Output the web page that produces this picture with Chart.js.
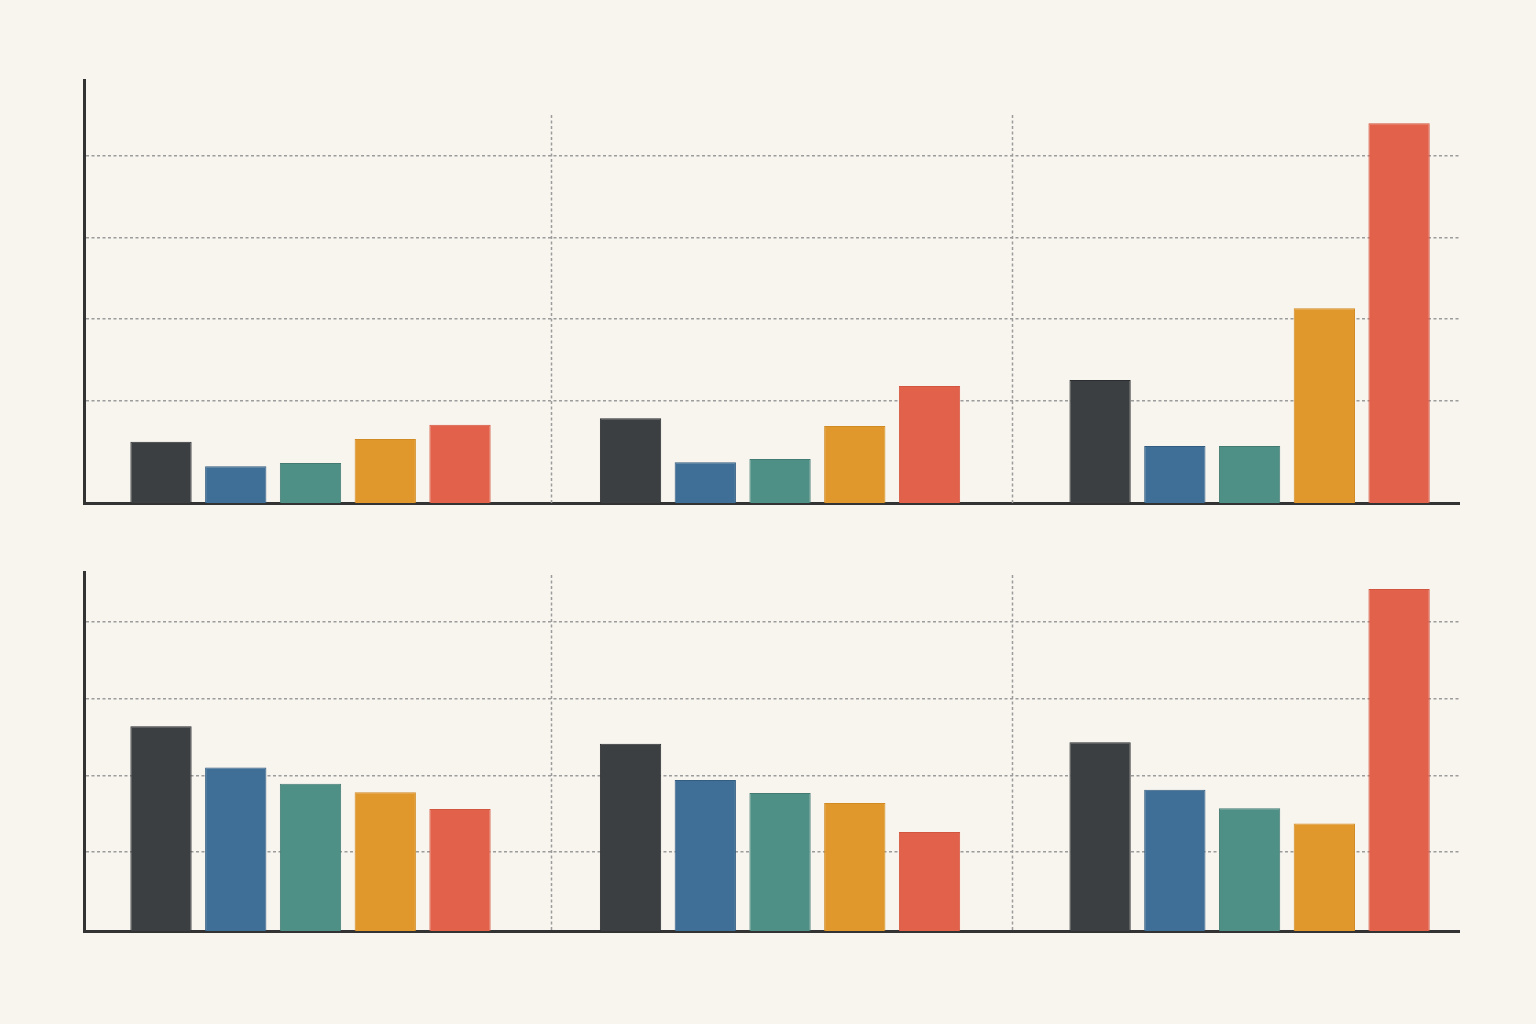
<!DOCTYPE html>
<html>
<head>
<meta charset="utf-8">
<script src="https://cdn.jsdelivr.net/npm/chart.js@4.4.1/dist/chart.umd.min.js"></script>
<style>
  html, body { margin: 0; padding: 0; background: #f8f5ef; }
  canvas { display: block; }
</style>
</head>
<body>
<canvas id="topChart" width="1536" height="512"></canvas>
<canvas id="bottomChart" width="1536" height="512"></canvas>
<script>
// three groups, five bars each
const groups = [0, 1, 2];

// upper panel
const topDark = [7.5, 10.4, 15.1];
const topBlue = [4.5, 5.0, 7.0];
const topTeal = [4.9, 5.4, 7.0];
const topOrange = [7.85, 9.45, 23.9];
const topRed = [9.6, 14.35, 46.6];
const topGrid = [12.6, 22.6, 32.6, 42.6];

// lower panel
const bottomDark = [26.7, 24.4, 24.6];
const bottomBlue = [21.3, 19.7, 18.4];
const bottomTeal = [19.2, 18.0, 16.0];
const bottomOrange = [18.1, 16.7, 14.0];
const bottomRed = [15.9, 12.9, 44.6];
const bottomGrid = [10.3, 20.3, 30.3, 40.3];

// where the dotted dividers sit between groups
const separators = [0.513, 1.494];

const COLORS = [
  { fill: '#3b3f41', edge: '#2b2e30' },
  { fill: '#3f6f97', edge: '#335d80' },
  { fill: '#4e8f86', edge: '#437b73' },
  { fill: '#e0972b', edge: '#d28a22' },
  { fill: '#e2614a', edge: '#d2553f' }
];

const GRID_GRAY = '#9c9c9c';
const AXIS_DARK = '#333333';

// dotted vertical lines between the groups
const separatorPlugin = {
  id: 'separators',
  beforeDatasetsDraw(chart, args, opts) {
    const { ctx, chartArea, scales } = chart;
    const top = scales.y.getPixelForValue(opts.topValue);
    ctx.save();
    ctx.strokeStyle = GRID_GRAY;
    ctx.lineWidth = 1.5;
    ctx.setLineDash([3, 2.5]);
    separators.forEach(v => {
      const px = Math.round(scales.x.getPixelForValue(v)) + 0.5;
      ctx.beginPath();
      ctx.moveTo(px, top);
      ctx.lineTo(px, chartArea.bottom);
      ctx.stroke();
    });
    ctx.restore();
  }
};

function buildDatasets(series) {
  return series.map((vals, i) => ({
    data: groups.map((g, j) => ({ x: g, y: vals[j] })),
    backgroundColor: COLORS[i].fill,
    borderColor: COLORS[i].edge,
    borderWidth: 1,
    borderSkipped: 'bottom',
    categoryPercentage: 0.796,
    barPercentage: 0.82
  }));
}

function makePanel(canvasId, series, gridValues, yMax, sepTop, padding) {
  const ctx = document.getElementById(canvasId).getContext('2d');
  return new Chart(ctx, {
    type: 'bar',
    data: { datasets: buildDatasets(series) },
    options: {
      responsive: false,
      animation: false,
      layout: { padding },
      plugins: {
        legend: { display: false },
        tooltip: { enabled: false },
        separators: { topValue: sepTop }
      },
      scales: {
        x: {
          type: 'linear',
          min: -0.4824,
          max: 2.446,
          offset: false,
          afterBuildTicks: scale => {
            // one tick per group so bar width follows the group spacing
            scale.ticks = groups.map(v => ({ value: v }));
          },
          ticks: { display: false },
          grid: { display: false, drawTicks: false, offset: false },
          border: { display: true, color: AXIS_DARK, width: 3 }
        },
        y: {
          min: 0,
          max: yMax,
          afterBuildTicks: scale => {
            scale.ticks = gridValues.map(v => ({ value: v }));
          },
          ticks: { display: false },
          grid: { color: GRID_GRAY, lineWidth: 1.5, drawTicks: false },
          border: { display: true, color: AXIS_DARK, width: 3, dash: [3, 2.5] }
        }
      }
    },
    plugins: [separatorPlugin]
  });
}

makePanel('topChart',
  [topDark, topBlue, topTeal, topOrange, topRed],
  topGrid, 51.9, 47.6,
  { left: 84, right: 77, top: 80, bottom: 9 });

makePanel('bottomChart',
  [bottomDark, bottomBlue, bottomTeal, bottomOrange, bottomRed],
  bottomGrid, 46.8, 46.4,
  { left: 84, right: 77, top: 60, bottom: 93 });
</script>
</body>
</html>
